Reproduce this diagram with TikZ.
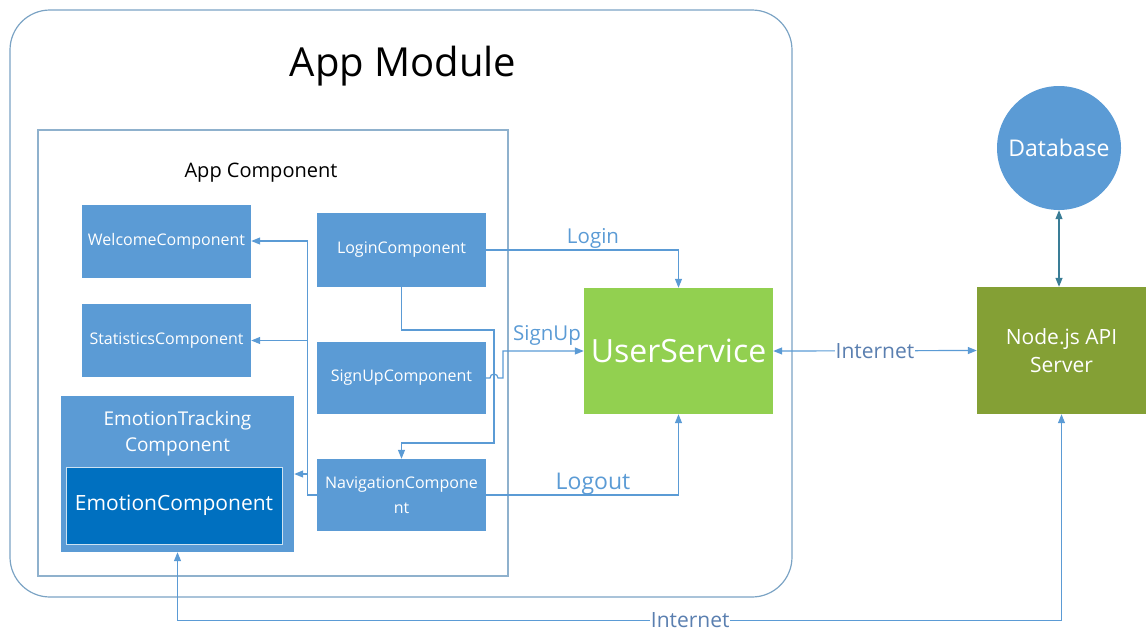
\documentclass[tikz,border=0pt]{standalone}
\usepackage{fontspec}
\setmainfont{Open Sans}
\usetikzlibrary{arrows.meta, positioning}

\definecolor{compblue}{HTML}{5B9BD5}
\definecolor{emoblue}{HTML}{0070C0}
\definecolor{servgreen}{HTML}{92D050}
\definecolor{apiolive}{HTML}{84A035}
\definecolor{frameline}{HTML}{7BA3C4}
\definecolor{linkblue}{HTML}{5B9BD5}
\definecolor{dbline}{HTML}{3A7D96}
\definecolor{netgray}{HTML}{5A7FB0}

\newcommand{\fs}[1]{\fontsize{#1}{1.3\dimexpr #1pt\relax}\selectfont}

\begin{document}
\begin{tikzpicture}[x=1pt,y=-1pt,>={Triangle[length=9pt,width=7pt]},
  frame/.style={draw=frameline,line width=1.2pt,minimum width=#1},
  comp/.style={fill=compblue,text=white,inner sep=0pt,align=center,
    minimum width=169pt,minimum height=73pt,font=\fs{16}},
  link/.style={draw=linkblue,line width=1.2pt},
  lbl/.style={text=linkblue,inner sep=1pt},
  netlbl/.style={text=netgray,fill=white,inner sep=0.5pt,font=\fs{21}}]
\useasboundingbox (0,0) rectangle (1148,632);

\node[frame=782pt,minimum height=587pt,rounded corners=40pt] (appmodule) at (401,303.5) {};
\node[font=\fs{40}] (apptitle) at (403,66) {App Module};
\node[frame=470pt,minimum height=446pt,draw=frameline!85] (appcomp) at (273,353) {};
\node[font=\fs{20}] (comptitle) at (261,173) {App Component};

\node[comp] (welcome) at (166.5,241) {WelcomeComponent};
\node[comp] (stats) at (166.5,340.5) {StatisticsComponent};
\node[comp,minimum width=233pt,minimum height=156pt] (emotrack) at (177.5,474) {};
\node[text=white,align=center,font=\fontsize{19}{26}\selectfont] (emotitle) at (177.5,434) {EmotionTracking\\Component};
\node[comp,fill=emoblue,draw=white!80!emoblue,line width=1pt,minimum width=216pt,minimum height=77pt,font=\fs{21}] (emotion) at (174,505.5) {EmotionComponent};

\node[comp,minimum height=74pt] (login) at (401.5,250) {LoginComponent};
\node[comp,minimum height=72pt] (signup) at (401.5,378) {SignUpComponent};
\node[comp,minimum height=72pt,font=\fontsize{16}{25}\selectfont] (nav) at (401.5,495) {NavigationCompone\\nt};

\node[comp,fill=servgreen,minimum width=189pt,minimum height=126pt,font=\fs{32}] (userservice) at (678.5,351) {UserService};
\node[comp,fill=apiolive,minimum height=127pt,font=\fontsize{21}{28}\selectfont] (nodeapi) at (1061.5,350.5) {Node.js API\\Server};
\node[circle,fill=compblue,text=white,minimum size=124pt,inner sep=0pt,font=\fs{23}] (database) at (1059,148) {Database};

\draw[link,->] (login.east) -| (userservice.north);
\node[lbl,font=\fs{20.5}] (loginlbl) at (593,238) {Login};
\draw[link,->] (login.south) |- (494,330) -- (494,443) -| (nav.north);
\draw[link,->] (signup.east) -- (490,378) arc[start angle=180,end angle=360,radius=4] -- (503,378) |- (userservice.west);
\node[lbl,font=\fs{20.5}] (signuplbl) at (547,335) {SignUp};
\draw[link,->] (nav.west) -- ++(-9,0) |- (welcome.east);
\draw[link,->] (nav.west) -- ++(-9,0) |- (stats.east);
\draw[link,->] (nav.west) -- ++(-9,0) |- (emotrack.east);
\draw[link,->] (nav.east) -| (userservice.south);
\node[lbl,font=\fs{23}] (logoutlbl) at (593,484) {Logout};

\draw[link,<->] (userservice.east) -- node[netlbl]{Internet} (nodeapi.west);
\draw[draw=dbline,line width=1.2pt,<->] (database.south) -- (database.south |- nodeapi.north);
\draw[link,<->] (emotrack.south) -- ++(0,68) -| node[netlbl,pos=0.29]{Internet} (nodeapi.south);
\end{tikzpicture}
\end{document}
